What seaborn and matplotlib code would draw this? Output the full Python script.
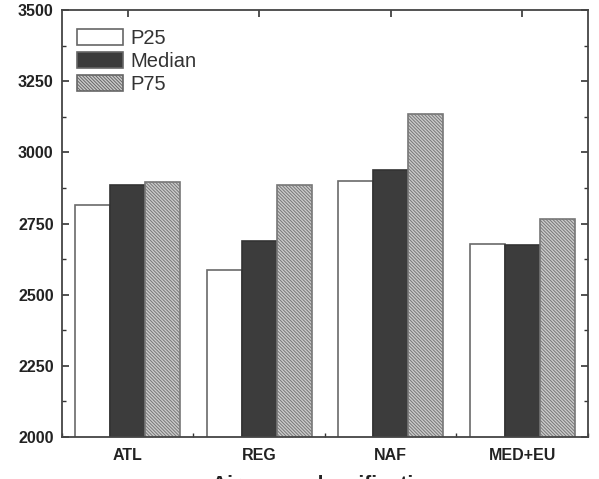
import matplotlib
matplotlib.use("Agg")
import matplotlib.pyplot as plt
import seaborn as sns
import pandas as pd
from matplotlib.ticker import MultipleLocator

categories = ["ATL", "REG", "NAF", "MED+EU"]
series = ["P25", "Median", "P75"]
p25 = [2815, 2587, 2900, 2678]
median = [2885, 2690, 2940, 2676]
p75 = [2895, 2885, 3135, 2766]

rows = []
for name, vals in zip(series, [p25, median, p75]):
    for c, v in zip(categories, vals):
        rows.append({"cat": c, "stat": name, "value": v})
df = pd.DataFrame(rows)

sns.set_style("ticks")
plt.rcParams['font.family'] = ['Liberation Sans', 'DejaVu Sans']
plt.rcParams['hatch.color'] = '#8c8c8c'
plt.rcParams['hatch.linewidth'] = 0.7

HATCH = "\\" * 10

fig = plt.figure(figsize=(5.99, 4.79), dpi=100)
ax = fig.add_axes([0.1035, 0.0877, 0.878, 0.891])

palette = {"P25": "#ffffff", "Median": "#3c3c3c", "P75": "#cccccc"}
sns.barplot(data=df, x="cat", y="value", hue="stat", order=categories,
            hue_order=series, palette=palette, width=0.8, gap=0,
            edgecolor="#555555", linewidth=1.2, ax=ax, saturation=1)

for cont, name in zip(ax.containers, series):
    for bar in cont:
        if name == "P75":
            bar.set_hatch(HATCH)
            bar.set_edgecolor("#777777")
        elif name == "Median":
            bar.set_edgecolor("#333333")
        else:
            bar.set_edgecolor("#6a6a6a")

ax.set_ylim(2000, 3500)
ax.set_xlim(-0.5, 3.5)
ax.yaxis.set_major_locator(MultipleLocator(250))
ax.yaxis.set_minor_locator(MultipleLocator(125))
ax.xaxis.set_minor_locator(MultipleLocator(0.5))
ax.tick_params(axis="both", which="both", direction="in", top=True, right=True,
               color="#333333")
ax.tick_params(which="major", length=5, width=1.2)
ax.tick_params(which="minor", length=3, width=1.0)
ax.tick_params(axis="x", which="minor", top=False)
ax.tick_params(axis="y", which="major", pad=6)
ax.tick_params(axis="x", which="major", pad=8)
for lab in ax.get_xticklabels() + ax.get_yticklabels():
    lab.set_fontweight("bold")
    lab.set_fontsize(11.5)
    lab.set_color("#222222")
for s in ax.spines.values():
    s.set_color("#444444")
    s.set_linewidth(1.3)

ax.set_xlabel("Air mass classification", fontsize=15, fontweight="bold",
              color="#222222")
ax.xaxis.set_label_coords(0.5, -0.09)
ax.set_ylabel("Boundary layer height (m)", fontsize=15, fontweight="bold",
              color="#222222")
ax.yaxis.set_label_coords(-0.119, 0.5)

leg = ax.legend(loc="upper left", frameon=False, fontsize=14.5,
                handlelength=2.3, handleheight=0.85, labelspacing=0.2,
                handletextpad=0.35, borderaxespad=0.0,
                bbox_to_anchor=(0.013, 0.975))
for h, name in zip(leg.legend_handles, series):
    h.set_edgecolor("#666666")
    if name == "P75":
        h.set_hatch(HATCH)
for t in leg.get_texts():
    t.set_color("#333333")

fig.savefig("out.png", dpi=100)
